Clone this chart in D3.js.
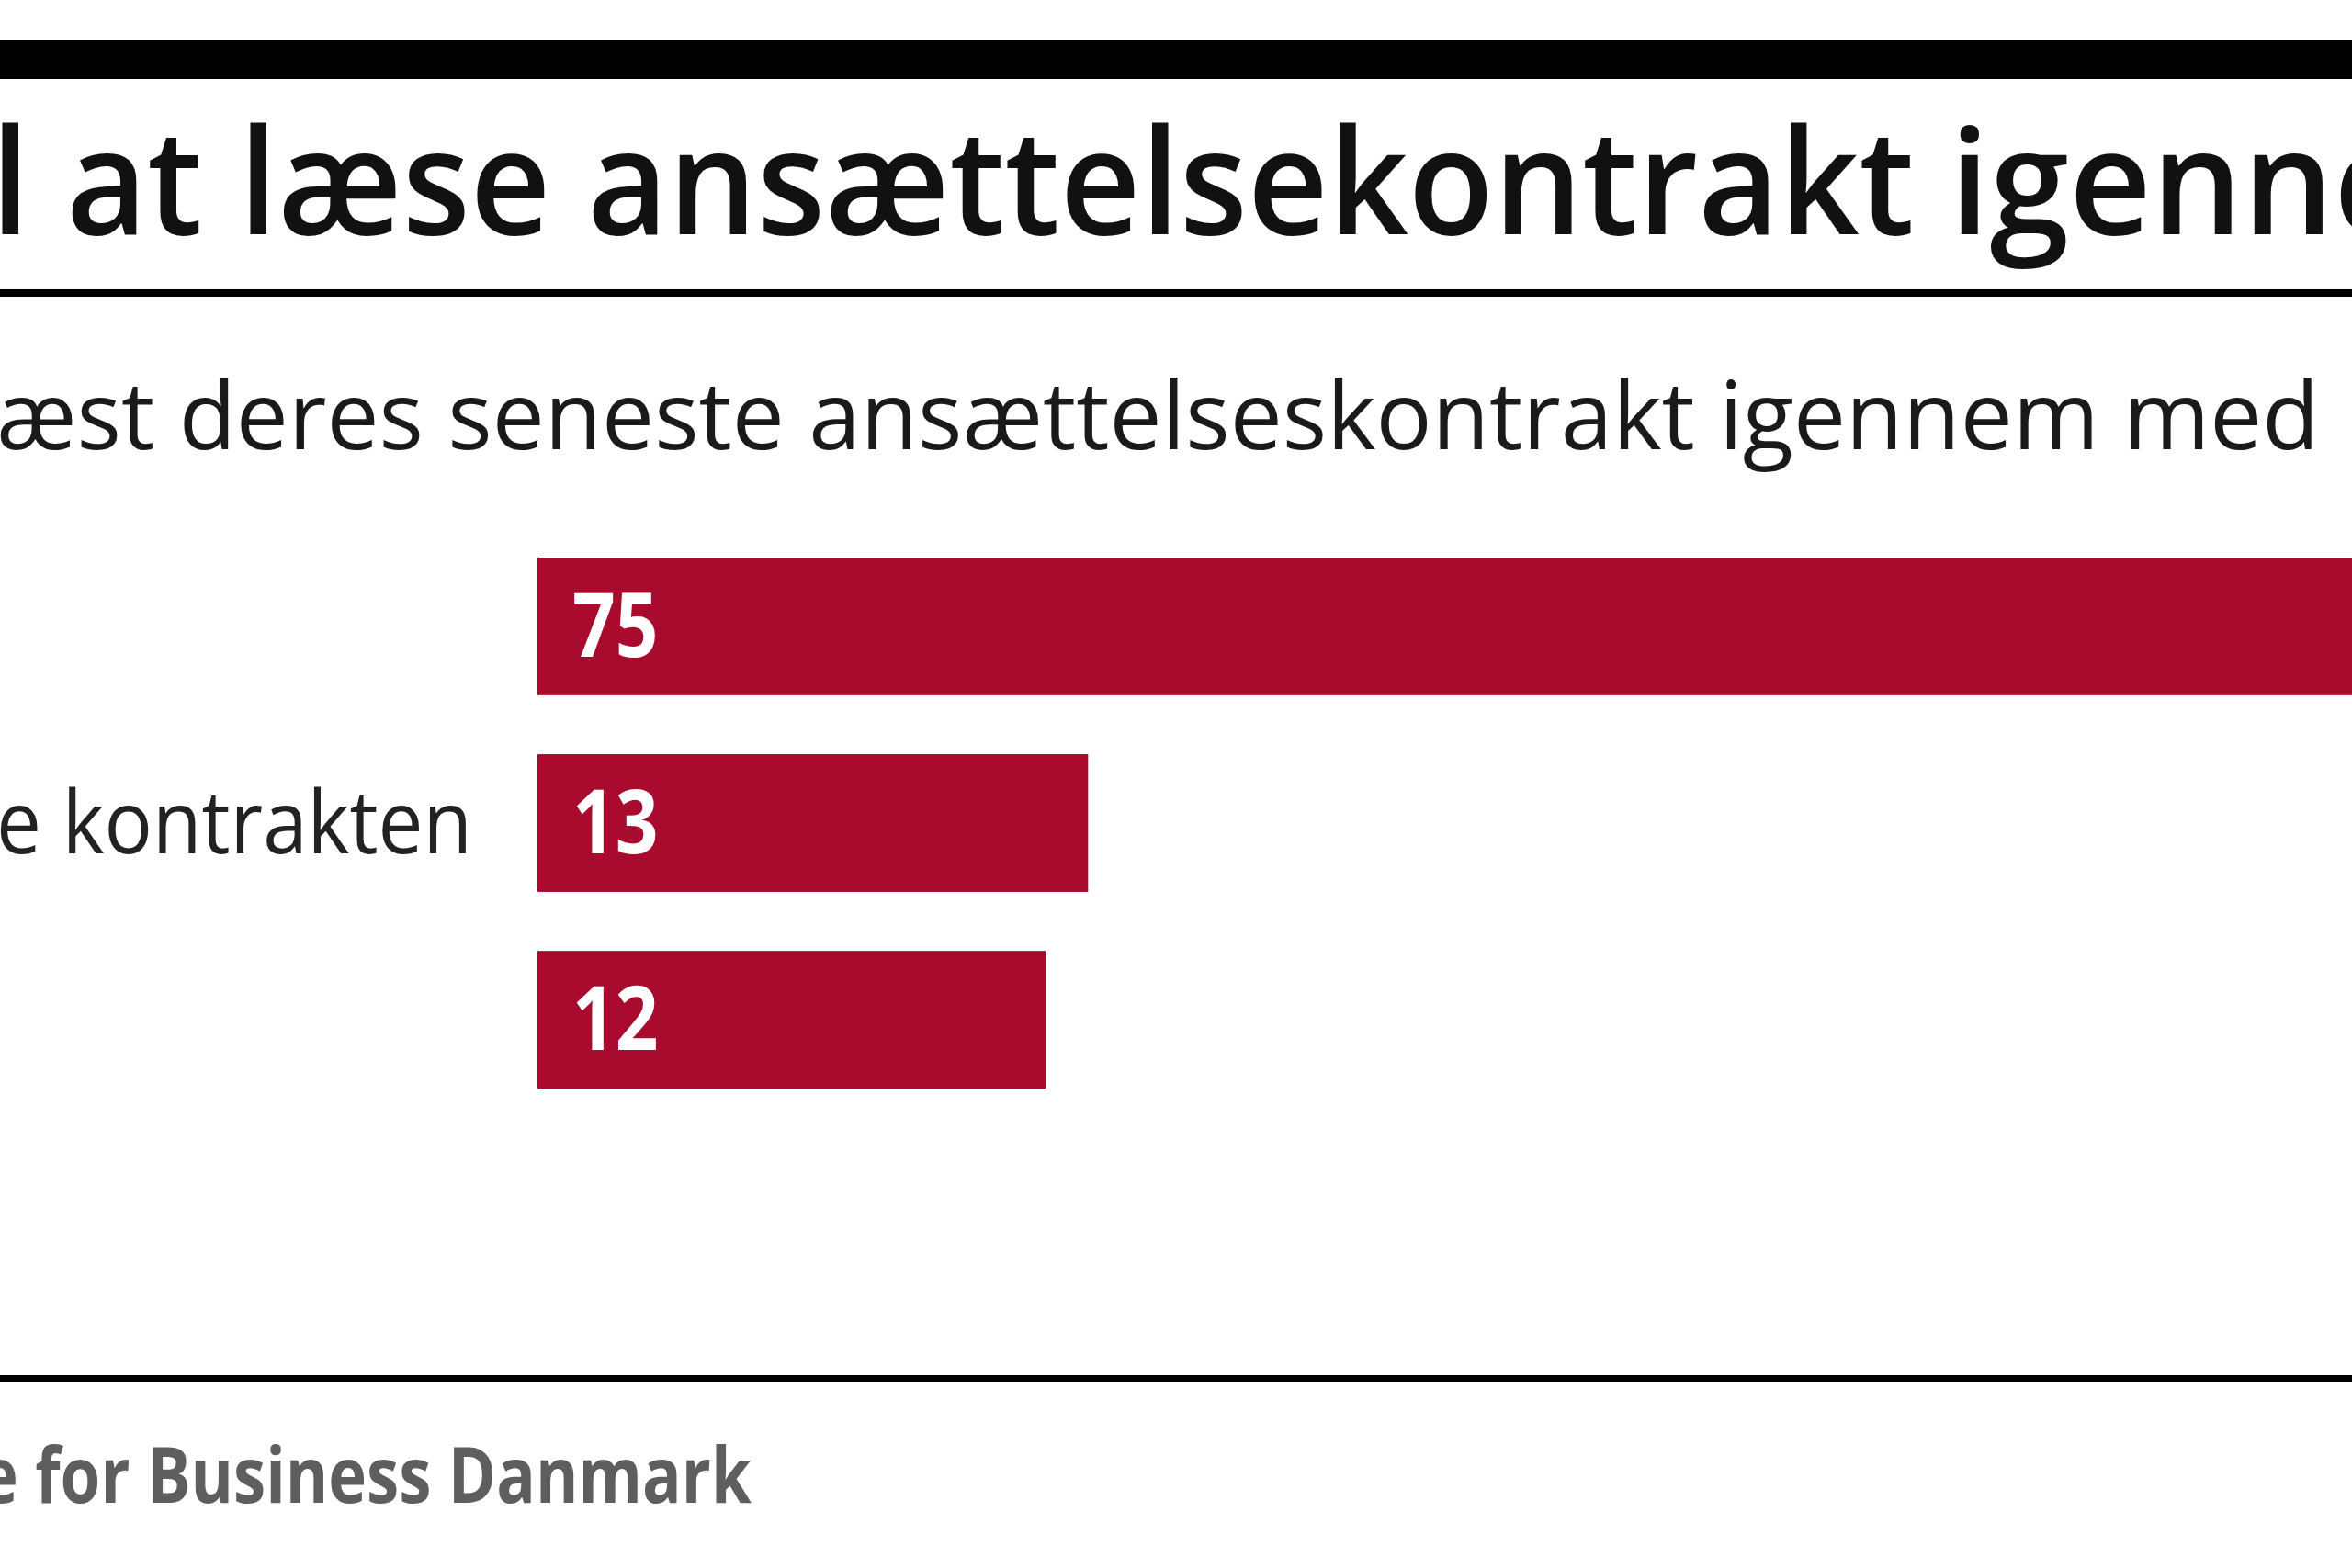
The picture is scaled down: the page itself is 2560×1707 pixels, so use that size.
<!DOCTYPE html>
<html>
<head>
<meta charset="utf-8">
<script src="https://cdn.jsdelivr.net/npm/d3@7"></script>
<style>
  html, body { margin: 0; padding: 0; background: #ffffff; overflow: hidden; }
  svg { display: block; }
</style>
</head>
<body>
<div id="chart"></div>
<script>
// visible part of the graphic only (the reference is a crop)
var TitleStart = "l at læse ansættelsekontrakt";
var TitleEnd = "igennem";
var SubtitleText = "æst deres seneste ansættelseskontrakt igennem med";
var SourceText = "e for Business Danmark";

// only the second category label reaches into the crop
var CategoryLabels = ["", "e kontrakten", ""];
var Values = [75, 13, 12];

var Width = 2560;
var Height = 1707;
var BarColor = "#a80b2e";
var Font = "'Open Sans', 'Noto Sans', sans-serif";

var svg = d3.select("#chart").append("svg")
    .attr("width", Width)
    .attr("height", Height);

// x scale: the 75 bar runs off the right edge, like in the crop
var XScale = d3.scaleLinear()
    .domain([0, 100])
    .range([585, 585 + 4610]);

var YScale = d3.scaleBand()
    .domain(d3.range(Values.length))
    .range([607, 1185])
    .paddingInner(0.3)
    .paddingOuter(0);

// squeeze a text element horizontally so that [start,end] of a substring lands where wanted
function Fit(sel, x0, x1, y, chars) {
    var node = sel.node();
    var w = chars ? node.getSubStringLength(0, chars) : node.getComputedTextLength();
    var sx = (x1 - x0) / w;
    sel.attr("x", 0).attr("y", 0)
        .attr("transform", "translate(" + x0 + "," + y + ") scale(" + sx + ",1)");
}

function TitlePart(txt) {
    return svg.append("text")
        .text(txt)
        .style("font-family", Font)
        .style("font-weight", 600)
        .style("font-size", "160px")
        .attr("fill", "#111");
}

// top rule
svg.append("rect").attr("x", 0).attr("y", 44).attr("width", Width).attr("height", 42).attr("fill", "#000");

Fit(TitlePart(TitleStart), -10, 2084, 255);
Fit(TitlePart(TitleEnd), 2122, 2540, 255, 5);

svg.append("rect").attr("x", 0).attr("y", 315).attr("width", Width).attr("height", 8).attr("fill", "#000");

var subtitle = svg.append("text")
    .text(SubtitleText)
    .style("font-family", Font)
    .style("font-weight", 400)
    .style("font-size", "102px")
    .attr("fill", "#1a1a1a");
Fit(subtitle, -4, 2525, 489);

// bars
svg.selectAll("rect.bar")
    .data(Values)
    .enter()
    .append("rect")
    .attr("class", "bar")
    .attr("x", XScale(0))
    .attr("y", (d, i) => YScale(i))
    .attr("width", d => XScale(d) - XScale(0))
    .attr("height", YScale.bandwidth())
    .attr("fill", BarColor);

svg.selectAll("text.value")
    .data(Values)
    .enter()
    .append("text")
    .attr("class", "value")
    .text(d => d)
    .attr("transform", (d, i) => "translate(" + (XScale(0) + 38) + "," + (YScale(i) + YScale.bandwidth() / 2 + 33) + ") scale(0.88,1.05)")
    .style("font-family", Font)
    .style("font-weight", 700)
    .style("font-size", "93px")
    .attr("fill", "#fff");

// category labels
svg.selectAll("text.cat")
    .data(CategoryLabels)
    .enter()
    .append("text")
    .attr("class", "cat")
    .text(d => d)
    .style("font-family", Font)
    .style("font-weight", 400)
    .style("font-size", "95px")
    .attr("fill", "#222")
    .each(function (d, i) {
        if (d) Fit(d3.select(this), -4, 514, YScale(i) + YScale.bandwidth() / 2 + 33);
    });

// bottom rule + source
svg.append("rect").attr("x", 0).attr("y", 1497).attr("width", Width).attr("height", 7).attr("fill", "#000");

var source = svg.append("text")
    .text(SourceText)
    .style("font-family", Font)
    .style("font-weight", 700)
    .style("font-size", "84px")
    .attr("fill", "#5e5e5e");
Fit(source, -22, 818, 1636);
</script>
</body>
</html>
